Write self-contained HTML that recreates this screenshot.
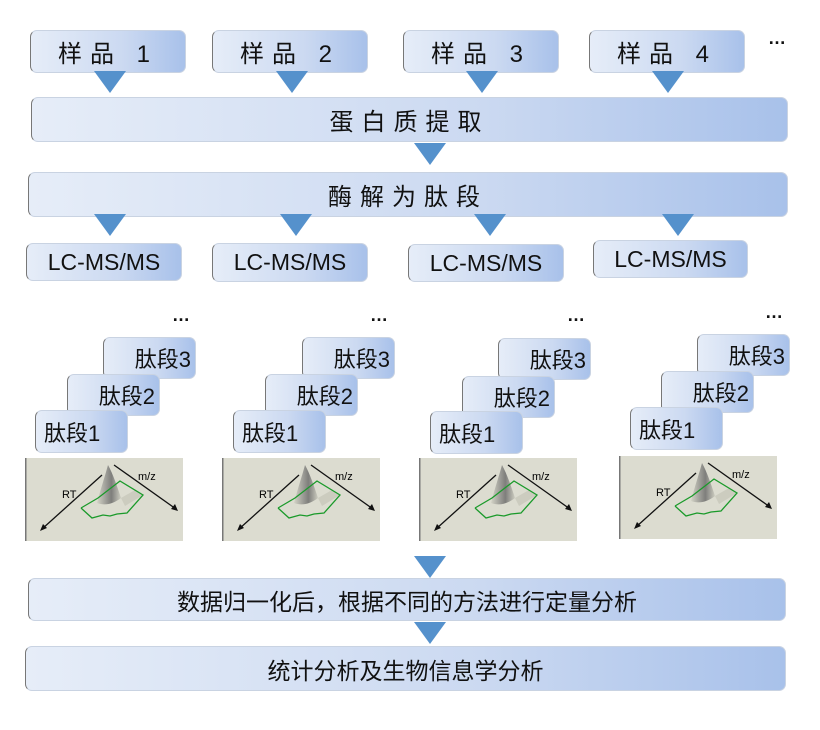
<!DOCTYPE html>
<html><head><meta charset="utf-8"><style>
body{margin:0;width:820px;height:730px;background:#fff;position:relative;overflow:hidden;font-family:"Liberation Sans","Noto Sans CJK SC",sans-serif;}
.b{position:absolute;box-sizing:border-box;border-radius:7px;background:linear-gradient(90deg,#e6edf8,#cbd9f1 60%,#a8c1ea);border:1px solid #c9d3e2;border-left:1.5px solid #777;display:flex;align-items:center;justify-content:center;color:#111;}
.t{position:absolute;width:0;height:0;border-left:16px solid transparent;border-right:16px solid transparent;border-top:22px solid #5591cc;}
.d{position:absolute;font-size:18px;font-weight:bold;color:#111;letter-spacing:1px;}
.s{font-size:24px;letter-spacing:8px;}
.lc{font-size:23px;}
.p{font-size:22px;}
.img{position:absolute;width:158px;height:83px;}
.big{font-size:23px;}
</style></head><body>
<div class="b s" style="left:30px;top:30px;width:156px;height:43px">样品 1</div>
<div class="b s" style="left:212px;top:30px;width:156px;height:43px">样品 2</div>
<div class="b s" style="left:403px;top:30px;width:156px;height:43px">样品 3</div>
<div class="b s" style="left:589px;top:30px;width:156px;height:43px">样品 4</div>
<div class="d" style="left:768px;top:28px">…</div>
<div class="t" style="left:94px;top:71px"></div>
<div class="t" style="left:276px;top:71px"></div>
<div class="t" style="left:466px;top:71px"></div>
<div class="t" style="left:652px;top:71px"></div>
<div class="b s" style="left:31px;top:97px;width:757px;height:45px">蛋白质提取</div>
<div class="t" style="left:414px;top:143px"></div>
<div class="b s" style="left:28px;top:172px;width:760px;height:45px">酶解为肽段</div>
<div class="t" style="left:94px;top:214px"></div>
<div class="t" style="left:280px;top:214px"></div>
<div class="t" style="left:474px;top:214px"></div>
<div class="t" style="left:662px;top:214px"></div>
<div class="b lc" style="left:26px;top:243px;width:156px;height:38px">LC-MS/MS</div>
<div class="b lc" style="left:212px;top:243px;width:156px;height:39px">LC-MS/MS</div>
<div class="b lc" style="left:408px;top:244px;width:156px;height:38px">LC-MS/MS</div>
<div class="b lc" style="left:593px;top:240px;width:155px;height:38px">LC-MS/MS</div>

<div class="d" style="left:172px;top:305px">…</div>
<div class="b p" style="left:103px;top:337px;width:93px;height:42px;justify-content:flex-end;padding-right:4px">肽段3</div>
<div class="b p" style="left:67px;top:374px;width:93px;height:42px;justify-content:flex-end;padding-right:4px">肽段2</div>
<div class="b p" style="left:35px;top:410px;width:93px;height:43px;justify-content:flex-start;padding-left:8px">肽段1</div>

<div class="d" style="left:370px;top:305px">…</div>
<div class="b p" style="left:302px;top:337px;width:93px;height:42px;justify-content:flex-end;padding-right:4px">肽段3</div>
<div class="b p" style="left:265px;top:374px;width:93px;height:42px;justify-content:flex-end;padding-right:4px">肽段2</div>
<div class="b p" style="left:233px;top:410px;width:93px;height:43px;justify-content:flex-start;padding-left:8px">肽段1</div>

<div class="d" style="left:567px;top:305px">…</div>
<div class="b p" style="left:498px;top:338px;width:93px;height:42px;justify-content:flex-end;padding-right:4px">肽段3</div>
<div class="b p" style="left:462px;top:376px;width:93px;height:42px;justify-content:flex-end;padding-right:4px">肽段2</div>
<div class="b p" style="left:430px;top:411px;width:93px;height:43px;justify-content:flex-start;padding-left:8px">肽段1</div>

<div class="d" style="left:765px;top:302px">…</div>
<div class="b p" style="left:697px;top:334px;width:93px;height:42px;justify-content:flex-end;padding-right:4px">肽段3</div>
<div class="b p" style="left:661px;top:371px;width:93px;height:42px;justify-content:flex-end;padding-right:4px">肽段2</div>
<div class="b p" style="left:630px;top:407px;width:93px;height:43px;justify-content:flex-start;padding-left:8px">肽段1</div>

<svg width="0" height="0" style="position:absolute"><defs>
<linearGradient id="pk" x1="0" x2="1" y1="0" y2="0"><stop offset="0" stop-color="#d0d0c4"/><stop offset="0.6" stop-color="#666"/><stop offset="1" stop-color="#c8c8bc"/></linearGradient>
<g id="spec">
<rect x="0" y="0" width="158" height="83" fill="#dcdcd0"/>
<rect x="0" y="0" width="1.5" height="83" fill="#777"/>
<path d="M83,7 C80,18 76,30 72,45 C80,48 88,46 96,40 C92,28 88,16 83,7Z" fill="url(#pk)" opacity="0.8"/>
<path d="M96,40 L110,32 L118,37 L100,48Z" fill="#c4c4b8" opacity="0.7"/>
<polyline points="56,50 73,40 95,23 118,37 102,55 92,56 85,58 78,57 67,60 56,50" fill="none" stroke="#1a9a2a" stroke-width="1.3"/>
<line x1="77" y1="17" x2="17" y2="71" stroke="#111" stroke-width="1.3"/>
<polygon points="15,73 18,66 22,70" fill="#111"/>
<line x1="89" y1="7" x2="151" y2="51" stroke="#111" stroke-width="1.3"/>
<polygon points="153,53 146,51 150,46" fill="#111"/>
<text x="37" y="40" font-size="11" font-family="Liberation Sans Narrow,Liberation Sans,sans-serif">RT</text>
<text x="113" y="22" font-size="11" font-family="Liberation Sans Narrow,Liberation Sans,sans-serif">m/z</text>
</g></defs></svg>
<svg class="img" style="left:25px;top:458px"><use href="#spec"/></svg>
<svg class="img" style="left:222px;top:458px"><use href="#spec"/></svg>
<svg class="img" style="left:419px;top:458px"><use href="#spec"/></svg>
<svg class="img" style="left:619px;top:456px"><use href="#spec"/></svg>

<div class="t" style="left:414px;top:556px"></div>
<div class="b big" style="left:28px;top:578px;width:758px;height:43px">数据归一化后，根据不同的方法进行定量分析</div>
<div class="t" style="left:414px;top:622px"></div>
<div class="b big" style="left:25px;top:646px;width:761px;height:45px">统计分析及生物信息学分析</div>
</body></html>
